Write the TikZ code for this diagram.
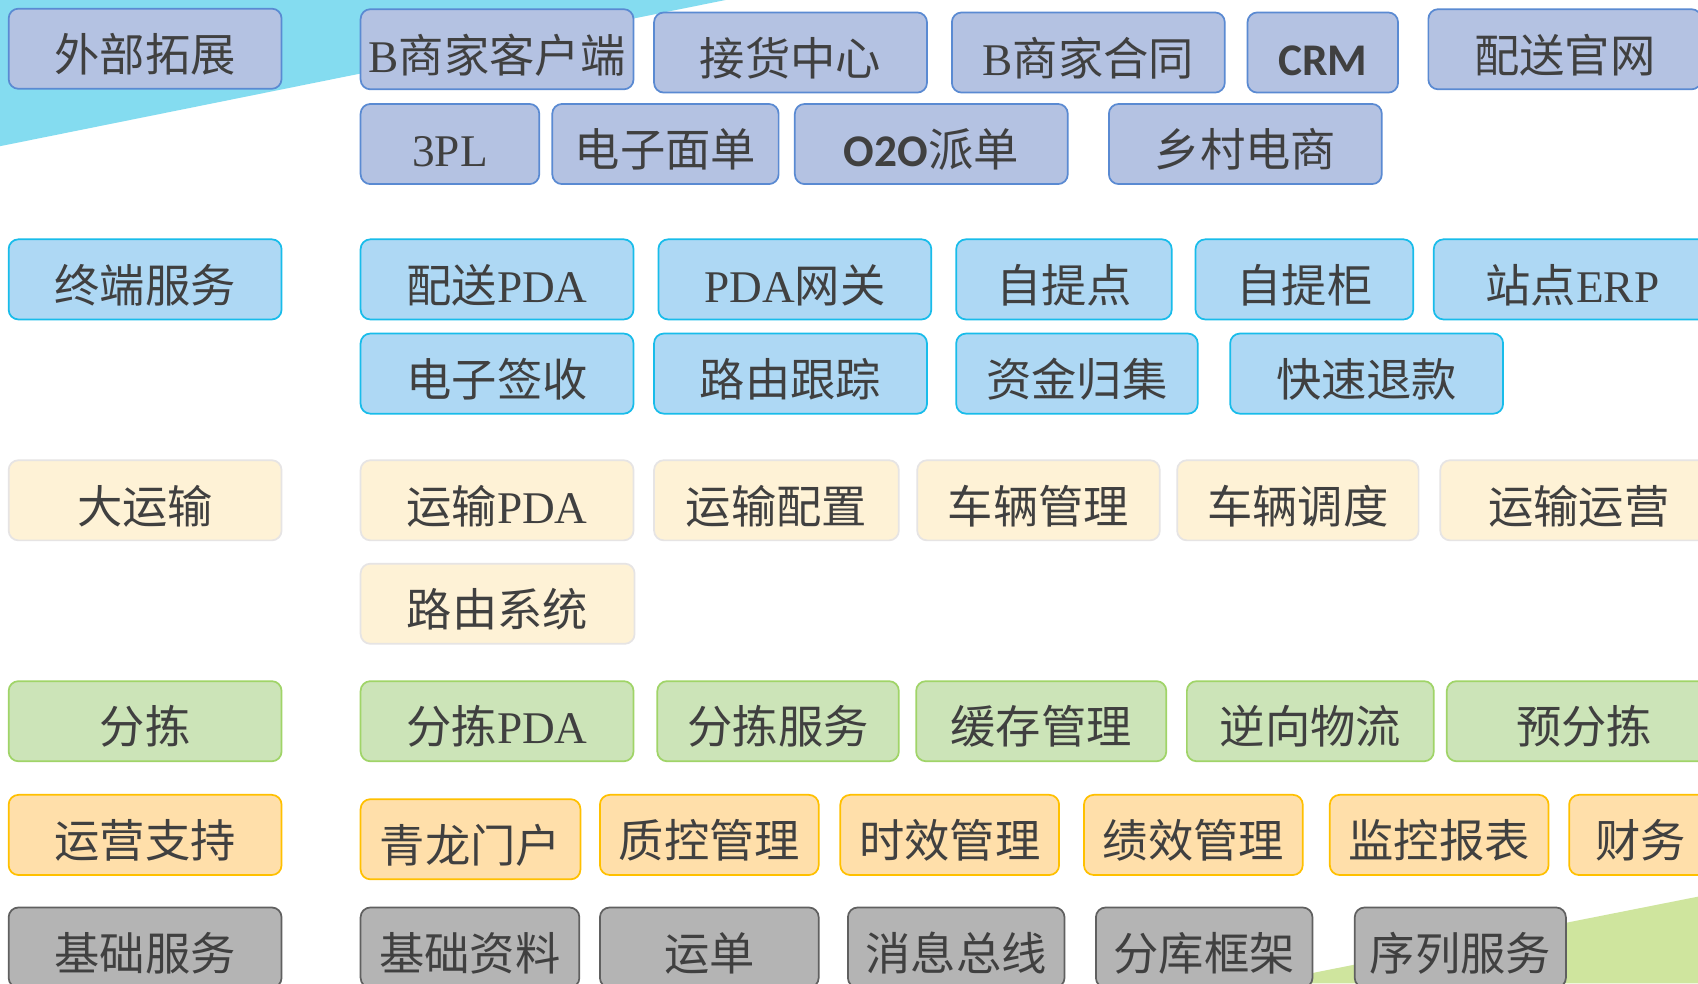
\documentclass[tikz,border=0pt]{standalone}
\usepackage{fontspec}
\newfontfamily\kai{Noto Sans CJK SC}
\newfontfamily\lserif{Liberation Serif}
\newfontfamily\calb{Carlito}[UprightFont=* Bold]
\newcommand{\ls}[1]{{\lserif #1}}
\newcommand{\cb}[1]{{\calb #1}}
\definecolor{txt}{HTML}{404040}
\definecolor{bgcyan}{HTML}{84DCF0}
\definecolor{bggreen}{HTML}{CFE59E}
\definecolor{purf}{HTML}{B4C2E2}
\definecolor{purd}{HTML}{5A8AD2}
\definecolor{bluf}{HTML}{AED8F4}
\definecolor{blud}{HTML}{18BCEA}
\definecolor{crmf}{HTML}{FEF2D6}
\definecolor{crmd}{HTML}{E6E4E4}
\definecolor{grnf}{HTML}{CCE4B8}
\definecolor{grnd}{HTML}{A0D468}
\definecolor{orgf}{HTML}{FFDFAA}
\definecolor{orgd}{HTML}{FFC000}
\definecolor{gryf}{HTML}{B4B4B4}
\definecolor{gryd}{HTML}{606060}
\tikzset{
  box/.style={rounded corners=9bp, line width=1.6bp, minimum height=74bp, inner sep=0pt,
    text height=42bp, text depth=0bp,
    font=\kai\fontsize{42}{46}\selectfont, text=txt},
  pur/.style={box, fill=purf, draw=purd},
  blu/.style={box, fill=bluf, draw=blud},
  crm/.style={box, fill=crmf, draw=crmd},
  grn/.style={box, fill=grnf, draw=grnd},
  org/.style={box, fill=orgf, draw=orgd},
  gry/.style={box, fill=gryf, draw=gryd},
}
\begin{document}
\begin{tikzpicture}[x=1bp,y=-1bp]
\useasboundingbox (0,0) rectangle (1568,908);
\clip (0,0) rectangle (1568,908);
\fill[white] (0,0) rectangle (1568,908);
% background shapes
\fill[bgcyan] (0,0) -- (670,0) -- (0,135) -- cycle;
\fill[bggreen] (1164,908) -- (1568,828) -- (1568,908) -- cycle;
% row 1
\node[pur, minimum width=252bp] (ext) at (134,45) {外部拓展};
\node[pur, minimum width=252bp] (b1) at (459,45.5) {\ls{B}商家客户端};
\node[pur, minimum width=252bp] (b2) at (730,48.5) {接货中心};
\node[pur, minimum width=252bp] (b3) at (1005,48.5) {\ls{B}商家合同};
\node[pur, minimum width=139bp] (b4) at (1221.5,48.5) {\cb{CRM}};
\node[pur, minimum width=252bp] (b5) at (1445,45.5) {配送官网};
\node[pur, minimum width=165bp] (b6) at (415.5,133) {\ls{3PL}};
\node[pur, minimum width=209bp] (b7) at (614.5,133) {电子面单};
\node[pur, minimum width=252bp] (b8) at (860,133) {\cb{O2O}派单};
\node[pur, minimum width=252bp] (b9) at (1150,133) {乡村电商};
% row 2
\node[blu, minimum width=252bp] (term) at (134,258) {终端服务};
\node[blu, minimum width=252bp] (c1) at (459,258) {配送\ls{PDA}};
\node[blu, minimum width=252bp] (c2) at (734,258) {\ls{PDA}网关};
\node[blu, minimum width=199bp] (c3) at (982.5,258) {自提点};
\node[blu, minimum width=201bp] (c4) at (1204.5,258) {自提柜};
\node[blu, minimum width=256bp] (c5) at (1452,258) {站点\ls{ERP}};
\node[blu, minimum width=252bp] (c6) at (459,345) {电子签收};
\node[blu, minimum width=252bp] (c7) at (730,345) {路由跟踪};
\node[blu, minimum width=223bp] (c8) at (994.5,345) {资金归集};
\node[blu, minimum width=252bp] (c9) at (1262,345) {快速退款};
% row 3
\node[crm, minimum width=252bp] (trans) at (134,462) {大运输};
\node[crm, minimum width=252bp] (d1) at (459,462) {运输\ls{PDA}};
\node[crm, minimum width=226bp] (d2) at (717,462) {运输配置};
\node[crm, minimum width=224bp] (d3) at (959,462) {车辆管理};
\node[crm, minimum width=223bp] (d4) at (1198.5,462) {车辆调度};
\node[crm, minimum width=256bp] (d5) at (1458,462) {运输运营};
\node[crm, minimum width=253bp] (d6) at (459.5,557.5) {路由系统};
% row 4
\node[grn, minimum width=252bp] (sort) at (134,666) {分拣};
\node[grn, minimum width=252bp] (e1) at (459,666) {分拣\ls{PDA}};
\node[grn, minimum width=223bp] (e2) at (718.5,666) {分拣服务};
\node[grn, minimum width=231bp] (e3) at (961.5,666) {缓存管理};
\node[grn, minimum width=228bp] (e4) at (1210,666) {逆向物流};
\node[grn, minimum width=254bp] (e5) at (1463,666) {预分拣};
% row 5
\node[org, minimum width=252bp] (ops) at (134,771) {运营支持};
\node[org, minimum width=203bp] (f1) at (434.5,775) {青龙门户};
\node[org, minimum width=202bp] (f2) at (655,771) {质控管理};
\node[org, minimum width=202bp] (f3) at (877,771) {时效管理};
\node[org, minimum width=202bp] (f4) at (1102,771) {绩效管理};
\node[org, minimum width=202bp] (f5) at (1329,771) {监控报表};
\node[org, minimum width=132bp] (f6) at (1515,771) {财务};
% row 6
\node[gry, minimum width=252bp] (base) at (134,875) {基础服务};
\node[gry, minimum width=202bp] (g1) at (434,875) {基础资料};
\node[gry, minimum width=202bp] (g2) at (655,875) {运单};
\node[gry, minimum width=200bp] (g3) at (883,875) {消息总线};
\node[gry, minimum width=200bp] (g4) at (1112,875) {分库框架};
\node[gry, minimum width=195bp] (g5) at (1348.5,875) {序列服务};
\end{tikzpicture}
\end{document}
